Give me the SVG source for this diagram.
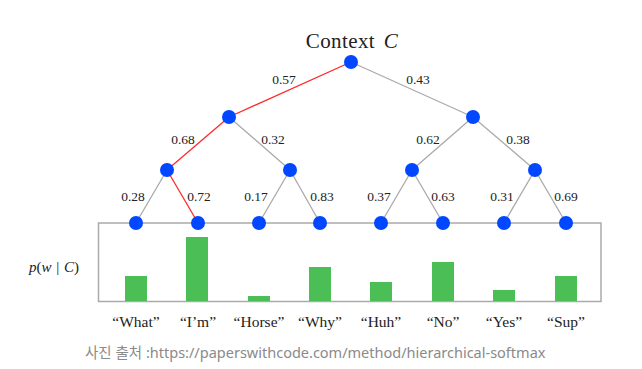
<svg xmlns="http://www.w3.org/2000/svg" width="642" height="369" viewBox="0 0 642 369">
<style>
.e{stroke:#aaaaaa;stroke-width:1.3;fill:none}
.r{stroke:#ff2a2a;stroke-width:1.3;fill:none}
.n{fill:#0047ff}
.b{fill:#4bbf55}
.t{font-family:"Liberation Serif","DejaVu Serif",serif;font-size:13.5px;fill:#222;text-anchor:middle}
.w{font-family:"Liberation Serif","DejaVu Serif",serif;font-size:15.5px;fill:#222;text-anchor:middle}
</style>
<rect width="642" height="369" fill="#ffffff"/>
<rect x="98.5" y="223" width="502.5" height="78.5" fill="none" stroke="#aaaaaa" stroke-width="1.5"/>
<g id="bars">
<rect class="b" x="125" y="276" width="22" height="25"/>
<rect class="b" x="186" y="237" width="22" height="64"/>
<rect class="b" x="248" y="296" width="22" height="5"/>
<rect class="b" x="309" y="267" width="22" height="34"/>
<rect class="b" x="370" y="282" width="22" height="19"/>
<rect class="b" x="432" y="262" width="22" height="39"/>
<rect class="b" x="493" y="290" width="22" height="11"/>
<rect class="b" x="555" y="276" width="22" height="25"/>
</g>
<g id="connectors">
<line class="r" x1="351" y1="62" x2="229" y2="117"/>
<line class="e" x1="351" y1="62" x2="473" y2="117"/>
<line class="r" x1="229" y1="117" x2="167" y2="170"/>
<line class="e" x1="229" y1="117" x2="290" y2="170"/>
<line class="e" x1="473" y1="117" x2="412" y2="170"/>
<line class="e" x1="473" y1="117" x2="535" y2="170"/>
<line class="e" x1="167" y1="170" x2="136" y2="223"/>
<line class="r" x1="167" y1="170" x2="198" y2="223"/>
<line class="e" x1="290" y1="170" x2="259" y2="223"/>
<line class="e" x1="290" y1="170" x2="320" y2="223"/>
<line class="e" x1="412" y1="170" x2="381" y2="223"/>
<line class="e" x1="412" y1="170" x2="443" y2="223"/>
<line class="e" x1="535" y1="170" x2="504" y2="223"/>
<line class="e" x1="535" y1="170" x2="566" y2="223"/>
</g>
<g id="labels">
<text class="t" x="284" y="84">0.57</text>
<text class="t" x="418" y="84">0.43</text>
<text class="t" x="183" y="144">0.68</text>
<text class="t" x="273" y="144">0.32</text>
<text class="t" x="428" y="144">0.62</text>
<text class="t" x="518" y="144">0.38</text>
<text class="t" x="133" y="201">0.28</text>
<text class="t" x="199" y="201">0.72</text>
<text class="t" x="256" y="201">0.17</text>
<text class="t" x="322" y="201">0.83</text>
<text class="t" x="379" y="201">0.37</text>
<text class="t" x="443" y="201">0.63</text>
<text class="t" x="502" y="201">0.31</text>
<text class="t" x="566" y="201">0.69</text>
</g>
<g id="root"><circle class="n" cx="351" cy="62" r="7"/></g>
<g id="n1"><circle class="n" cx="229" cy="117" r="7"/></g>
<g id="n2"><circle class="n" cx="473" cy="117" r="7"/></g>
<g id="n3"><circle class="n" cx="167" cy="170" r="7"/></g>
<g id="n4"><circle class="n" cx="290" cy="170" r="7"/></g>
<g id="n5"><circle class="n" cx="412" cy="170" r="7"/></g>
<g id="n6"><circle class="n" cx="535" cy="170" r="7"/></g>
<g id="l1"><circle class="n" cx="136" cy="223" r="7"/></g>
<g id="l2"><circle class="n" cx="198" cy="223" r="7"/></g>
<g id="l3"><circle class="n" cx="259" cy="223" r="7"/></g>
<g id="l4"><circle class="n" cx="320" cy="223" r="7"/></g>
<g id="l5"><circle class="n" cx="381" cy="223" r="7"/></g>
<g id="l6"><circle class="n" cx="443" cy="223" r="7"/></g>
<g id="l7"><circle class="n" cx="504" cy="223" r="7"/></g>
<g id="l8"><circle class="n" cx="566" cy="223" r="7"/></g>
<text x="352" y="48" style="font-family:'Liberation Serif','DejaVu Serif',serif;font-size:21px;fill:#222;text-anchor:middle;letter-spacing:0.4px">Context <tspan dx="3" font-style="italic">C</tspan></text>
<text x="54" y="272" style="font-family:'Liberation Serif','DejaVu Serif',serif;font-size:15px;fill:#222;text-anchor:middle;font-style:italic">p<tspan font-style="normal">(</tspan>w <tspan dx="1" font-style="normal">|</tspan> <tspan dx="1">C</tspan><tspan font-style="normal">)</tspan></text>
<g id="words">
<text class="w" x="136" y="327">“What”</text>
<text class="w" x="198" y="327">“I’m”</text>
<text class="w" x="259" y="327">“Horse”</text>
<text class="w" x="320" y="327">“Why”</text>
<text class="w" x="381" y="327">“Huh”</text>
<text class="w" x="443" y="327">“No”</text>
<text class="w" x="504" y="327">“Yes”</text>
<text class="w" x="566" y="327">“Sup”</text>
</g>
<text x="85" y="358" style="font-family:'Noto Sans','Noto Sans CJK KR',sans-serif;font-size:14.5px;fill:#8a8a8a">사진 출처 :https://paperswithcode.com/method/hierarchical-softmax</text>
</svg>
